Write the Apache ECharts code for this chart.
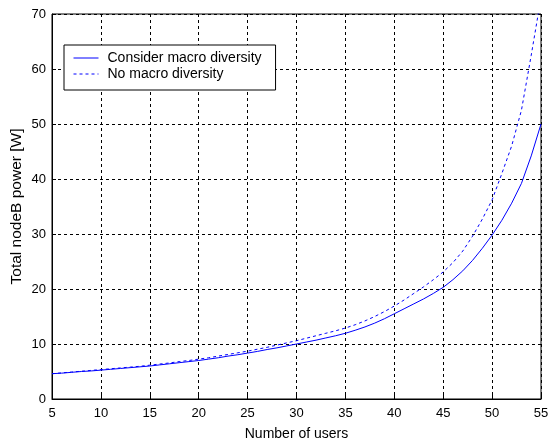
<!DOCTYPE html>
<html>
<head>
<meta charset="utf-8">
<script src="https://cdn.jsdelivr.net/npm/echarts@6/dist/echarts.min.js"></script>
<style>
html,body{margin:0;padding:0;background:#fff;}
#chart{width:548px;height:441px;}
</style>
</head>
<body>
<div id="chart"></div>
<script>
var users = [5,6,7,8,9,10,11,12,13,14,15,16,17,18,19,20,21,22,23,24,25,26,27,28,29,30,31,32,33,34,35,36,37,38,39,40,41,42,43,44,45,46,47,48,49,50,51,52,53,54,55];
var considerMacro = [4.6,4.7,4.85,5.0,5.1,5.25,5.4,5.55,5.7,5.85,6.0,6.2,6.4,6.6,6.8,7.0,7.25,7.5,7.8,8.05,8.35,8.65,9.0,9.3,9.65,10.0,10.35,10.7,11.1,11.5,11.95,12.5,13.1,13.8,14.6,15.5,16.4,17.3,18.2,19.2,20.3,21.7,23.3,25.2,27.4,29.8,32.5,35.6,39.2,44.2,50.0];
var noMacro = [4.6,4.75,4.9,5.05,5.2,5.35,5.5,5.65,5.8,5.95,6.15,6.35,6.55,6.8,7.0,7.25,7.5,7.8,8.1,8.4,8.7,9.05,9.4,9.8,10.2,10.6,11.05,11.5,11.95,12.4,12.9,13.5,14.2,15.0,15.9,16.9,18.0,19.2,20.4,21.7,23.1,24.8,26.9,29.6,32.7,36.2,41.0,46.0,52.5,62.5,73.0];
var seriesNames = ['Consider macro diversity', 'No macro diversity'];
var xTicks = {min: 5, max: 55, step: 5};
var yTicks = {min: 0, max: 70, step: 10};

function pairs(xs, ys){ return xs.map(function(x,i){ return [x, ys[i]]; }); }

var chart = echarts.init(document.getElementById('chart'), null, {renderer: 'canvas'});
var font = '"Liberation Sans", Arial, sans-serif';
var splitStyle = {show: true, lineStyle: {color: '#000', width: 1, type: [3,3]}};
chart.setOption({
  animation: false,
  backgroundColor: '#fff',
  grid: {left: 52, top: 14, width: 489, height: 385, show: true, borderColor: '#000', borderWidth: 1,
         backgroundColor: '#fff', outerBoundsMode: 'none', containLabel: false},
  legend: {
    left: 64, top: 45, orient: 'vertical',
    backgroundColor: '#fff', borderColor: '#000', borderWidth: 1,
    padding: [6, 14, 9, 9], itemGap: 2, itemWidth: 25, itemHeight: 13,
    itemStyle: {opacity: 0, borderWidth: 0},
    lineStyle: {width: 1},
    textStyle: {fontFamily: font, fontSize: 14, color: '#000', padding: [0, 0, 0, 4]},
    data: seriesNames
  },
  xAxis: {
    type: 'value', min: xTicks.min, max: xTicks.max, interval: xTicks.step,
    name: 'Number of users', nameLocation: 'middle', nameGap: 28, nameMoveOverlap: false,
    nameTextStyle: {fontFamily: font, fontSize: 14, color: '#000'},
    axisLine: {show: true, lineStyle: {color: '#000'}},
    axisTick: {show: true, inside: true, length: 4, lineStyle: {color: '#000'}},
    axisLabel: {fontFamily: font, fontSize: 13, color: '#000', margin: 8},
    splitLine: splitStyle
  },
  yAxis: {
    type: 'value', min: yTicks.min, max: yTicks.max, interval: yTicks.step,
    name: 'Total nodeB power [W]', nameLocation: 'middle', nameGap: 27, nameMoveOverlap: false,
    nameTextStyle: {fontFamily: font, fontSize: 15.5, color: '#000'},
    axisLine: {show: true, lineStyle: {color: '#000'}},
    axisTick: {show: true, inside: true, length: 4, lineStyle: {color: '#000'}},
    axisLabel: {fontFamily: font, fontSize: 13, color: '#000', margin: 6},
    splitLine: splitStyle
  },
  series: [
    {name: seriesNames[0], type: 'line', data: pairs(users, considerMacro), showSymbol: false, symbol: 'none', clip: true,
     lineStyle: {color: '#0000ff', width: 1, type: 'solid'}, itemStyle: {color: '#0000ff'}},
    {name: seriesNames[1], type: 'line', data: pairs(users, noMacro), showSymbol: false, symbol: 'none', clip: true,
     lineStyle: {color: '#0000ff', width: 1, type: [3,3]}, itemStyle: {color: '#0000ff'}}
  ]
});
</script>
</body>
</html>
